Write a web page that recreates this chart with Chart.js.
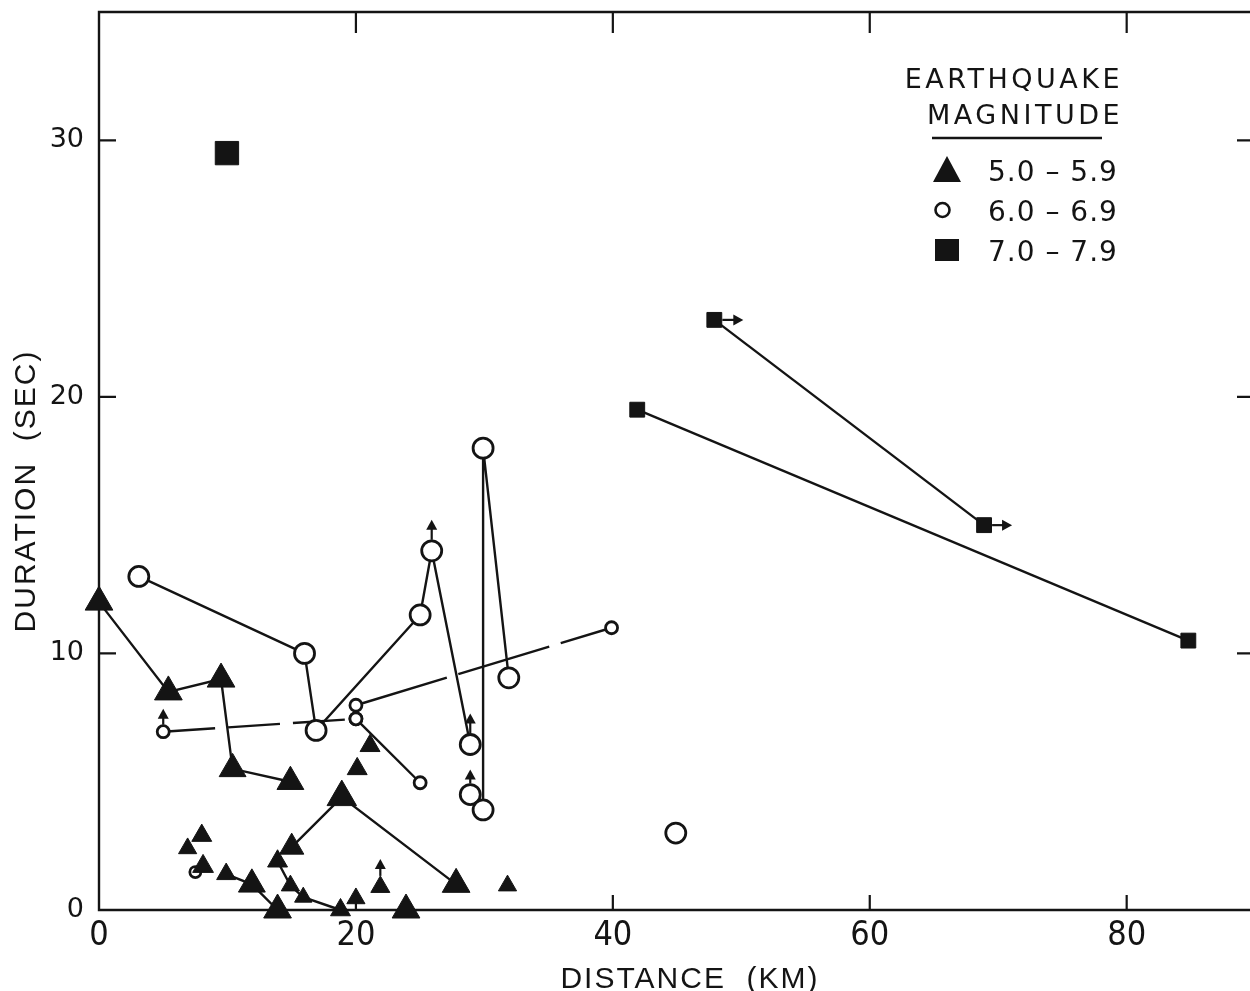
<!DOCTYPE html>
<html><head><meta charset="utf-8">
<script src="https://cdn.jsdelivr.net/npm/chart.js@4/dist/chart.umd.min.js"></script>
<style>html,body{margin:0;padding:0;background:#fff;}#wrap{width:1250px;height:991px;position:relative;}canvas{display:block;}</style>
</head><body><div id="wrap"><canvas id="c" width="1250" height="991"></canvas></div>
<script>
// ---------- axes / labels ----------
const xTicks = [0, 20, 40, 60, 80];
const yTicks = [0, 10, 20, 30];
const xMin = 0, xMax = 89.6, yMin = 0, yMax = 35;
const xTitle = 'DISTANCE  (KM)';
const yTitle = 'DURATION  (SEC)';
const legendTitle = ['EARTHQUAKE', 'MAGNITUDE'];
const legendLabels = ['5.0 – 5.9', '6.0 – 6.9', '7.0 – 7.9'];

// ---------- magnitude 5.0-5.9 (filled triangles) ----------
const triLine1 = [[0,12.0],[5.4,8.5],[9.5,9.0],[10.4,5.5],[14.9,5.0]];
const triLine2 = [[15.0,2.45],[18.9,4.4],[27.8,1.0]];
const triLine3 = [[13.9,1.9],[14.9,0.95],[15.9,0.5],[18.8,0.0]];
const triLine4 = [[9.9,1.4],[11.9,1.0],[13.9,0.0]];
const triLarge = [[23.9,0.0]];
const triSmall = [[6.9,2.4],[8.0,2.9],[8.1,1.7],[20.1,5.5],[21.1,6.4],[21.9,0.9],[20.0,0.45],[31.8,0.95]];

// ---------- magnitude 6.0-6.9 (open circles) ----------
const circLine1 = [[3.1,13.0],[16.0,10.0],[16.9,7.0],[25.0,11.5],[25.9,14.0],[28.9,6.45]];
const circLine2 = [[31.9,9.05],[29.9,18.0],[29.9,3.9]];
const circLarge = [[28.9,4.5],[44.9,3.0]];
const circDash1 = [[5.0,6.95],[20.0,7.45]];
const circDash2 = [[20.0,7.98],[39.9,11.0]];
const circLine3 = [[20.0,7.45],[25.0,4.96]];
const circSmall = [[7.5,1.48]];

// ---------- magnitude 7.0-7.9 (filled squares) ----------
const sqLine1 = [[41.9,19.5],[84.8,10.5]];
const sqLine2 = [[47.9,23.0],[68.9,15.0]];
const sqSingle = [[9.96,29.5]];

// ---------- lower-bound arrows ----------
const arrowsUp = [[5.0,6.95],[25.9,14.0],[28.9,6.45],[28.9,4.5],[21.9,0.9]];
const arrowsRight = [[47.9,23.0],[68.9,15.0]];

// ---------- styling ----------
const BLACK = '#141414';
const arrowUpStyle = [[7,16],[11,20],[11,20],[11,14],[11,17]];   // gap, length (px)
const arrowRightStyle = [[8,21],[8,20]];

function pts(a){ return a.map(p => ({x:p[0], y:p[1]})); }
function ds(label, data, style, radius, extra){
  const open = style === 'circle';
  return Object.assign({
    label, data: pts(data), pointStyle: style,
    pointRadius: radius, pointHoverRadius: radius,
    pointBackgroundColor: open ? '#ffffff' : BLACK,
    pointBorderColor: BLACK,
    pointBorderWidth: open ? 2.8 : 1,
    backgroundColor: open ? '#ffffff' : BLACK,
    borderColor: BLACK, borderWidth: 2.4,
    showLine: false, tension: 0, clip: false
  }, extra || {});
}

const datasets = [
  ds('M5 a', triLine1, 'triangle', [16,16,16,15.5,15.5], {showLine:true}),
  ds('M5 b', triLine2, 'triangle', [14,17,16], {showLine:true}),
  ds('M5 c', triLine3, 'triangle', [11.5,10.5,10,11.5], {showLine:true}),
  ds('M5 d', triLine4, 'triangle', [11,15.5,16], {showLine:true}),
  ds('M5 e', triLarge, 'triangle', 16),
  ds('M5 f', triSmall, 'triangle', [10.5,11.5,12,11.5,11.5,11,10.5,10.5]),
  ds('M6 a', circLine1, 'circle', 10, {showLine:true}),
  ds('M6 b', circLine2, 'circle', 10, {showLine:true}),
  ds('M6 c', circLarge, 'circle', 10),
  ds('M6 d', circSmall, 'circle', 5.5),
  ds('M6 e', circLine3, 'circle', 6, {showLine:true}),
  ds('M6 f', circDash1, 'circle', 6, {showLine:true, borderDash:[52,13]}),
  ds('M6 g', circDash2, 'circle', 6, {showLine:true, borderDash:[95,12]}),
  ds('M7 a', sqLine1, 'rect', 10.5, {showLine:true}),
  ds('M7 b', sqLine2, 'rect', 10.5, {showLine:true}),
  ds('M7 c', sqSingle, 'rect', 16.5)
];

function arrowHead(ctx, x, y, dir){
  ctx.beginPath();
  if (dir === 'up'){ ctx.moveTo(x, y); ctx.lineTo(x-5.5, y+10); ctx.lineTo(x+5.5, y+10); }
  else { ctx.moveTo(x, y); ctx.lineTo(x-10, y-5.5); ctx.lineTo(x-10, y+5.5); }
  ctx.closePath(); ctx.fill();
}

const framePlugin = {
  id: 'frame',
  beforeDatasetsDraw(chart){
    const {ctx, chartArea:{left,right,top,bottom}, scales:{x,y}} = chart;
    ctx.save();
    ctx.strokeStyle = BLACK; ctx.lineWidth = 2.4;
    ctx.beginPath();
    ctx.moveTo(right, top); ctx.lineTo(left, top); ctx.lineTo(left, bottom); ctx.lineTo(right, bottom);
    ctx.stroke();
    ctx.lineWidth = 2.2;
    xTicks.forEach(v => { if (v === 0) return; const px = x.getPixelForValue(v);
      ctx.beginPath(); ctx.moveTo(px, bottom); ctx.lineTo(px, bottom-15);
      ctx.moveTo(px, top); ctx.lineTo(px, top+21); ctx.stroke(); });
    yTicks.forEach(v => { if (v === 0) return; const py = y.getPixelForValue(v);
      ctx.beginPath(); ctx.moveTo(left, py); ctx.lineTo(left+17, py);
      ctx.moveTo(right, py); ctx.lineTo(right-13, py); ctx.stroke(); });
    // axis titles
    ctx.fillStyle = BLACK;
    ctx.font = '30px "Liberation Sans", Arial, sans-serif';
    if ('letterSpacing' in ctx) ctx.letterSpacing = '2px';
    ctx.textAlign = 'center'; ctx.textBaseline = 'alphabetic';
    ctx.fillText(xTitle, 690, 988);
    ctx.save();
    ctx.translate(35, 491); ctx.rotate(-Math.PI/2);
    ctx.fillText(yTitle, 0, 0);
    ctx.restore();
    ctx.restore();
  },
  afterDatasetsDraw(chart){
    const {ctx, scales:{x,y}} = chart;
    ctx.save();
    ctx.strokeStyle = BLACK; ctx.fillStyle = BLACK; ctx.lineWidth = 2.2;
    arrowsUp.forEach((p,i) => {
      const px = x.getPixelForValue(p[0]), py = y.getPixelForValue(p[1]);
      const [gap, len] = arrowUpStyle[i];
      const y0 = py - gap, y1 = py - gap - len;
      ctx.beginPath(); ctx.moveTo(px, y0); ctx.lineTo(px, y1+6); ctx.stroke();
      arrowHead(ctx, px, y1, 'up');
    });
    arrowsRight.forEach((p,i) => {
      const px = x.getPixelForValue(p[0]), py = y.getPixelForValue(p[1]);
      const [gap, len] = arrowRightStyle[i];
      const x0 = px + gap, x1 = px + gap + len;
      ctx.beginPath(); ctx.moveTo(x0, py); ctx.lineTo(x1-6, py); ctx.stroke();
      arrowHead(ctx, x1, py, 'right');
    });
    // legend
    ctx.font = '27px "DejaVu Sans", sans-serif';
    if ('letterSpacing' in ctx) ctx.letterSpacing = '3.5px';
    ctx.textAlign = 'right'; ctx.textBaseline = 'alphabetic';
    ctx.fillText(legendTitle[0], 1123, 88);
    ctx.fillText(legendTitle[1], 1123, 124);
    ctx.lineWidth = 2.4;
    ctx.beginPath(); ctx.moveTo(932, 138); ctx.lineTo(1102, 138); ctx.stroke();
    ctx.font = '28px "DejaVu Sans", sans-serif';
    if ('letterSpacing' in ctx) ctx.letterSpacing = '1px';
    ctx.textAlign = 'left';
    legendLabels.forEach((t,i) => ctx.fillText(t, 988, 181 + 40*i));
    ctx.beginPath(); ctx.moveTo(947, 156); ctx.lineTo(961, 182); ctx.lineTo(933, 182); ctx.closePath(); ctx.fill();
    ctx.beginPath(); ctx.arc(942.5, 210, 7, 0, 2*Math.PI); ctx.lineWidth = 2.6; ctx.stroke();
    ctx.fillRect(935, 239, 24, 22);
    ctx.restore();
  }
};

function noPad(s){ s.paddingTop = 0; s.paddingBottom = 0; s.paddingLeft = 0; s.paddingRight = 0; }

new Chart(document.getElementById('c'), {
  type: 'scatter',
  data: { datasets },
  options: {
    responsive: false, animation: false, devicePixelRatio: 1,
    layout: { autoPadding: false, padding: { top: 12, right: 0, left: 0, bottom: 0 } },
    plugins: { legend: { display: false }, tooltip: { enabled: false }, title: { display: false } },
    scales: {
      x: {
        type: 'linear', min: xMin, max: xMax,
        afterBuildTicks: s => { s.ticks = xTicks.map(v => ({value: v})); },
        afterFit: s => { s.height = 81; noPad(s); },
        grid: { display: false, drawTicks: false }, border: { display: false },
        ticks: { padding: 6, color: BLACK, maxRotation: 0, autoSkip: false,
                 font: { family: '"Liberation Sans Narrow", "DejaVu Sans Condensed", sans-serif', size: 34 } }
      },
      y: {
        type: 'linear', min: yMin, max: yMax,
        afterBuildTicks: s => { s.ticks = yTicks.map(v => ({value: v})); },
        afterFit: s => { s.width = 99; noPad(s); },
        grid: { display: false, drawTicks: false }, border: { display: false },
        ticks: { padding: 15, color: BLACK, autoSkip: false,
                 font: { family: '"DejaVu Sans", sans-serif', size: 27 } }
      }
    }
  },
  plugins: [framePlugin]
});
</script>
</body></html>
